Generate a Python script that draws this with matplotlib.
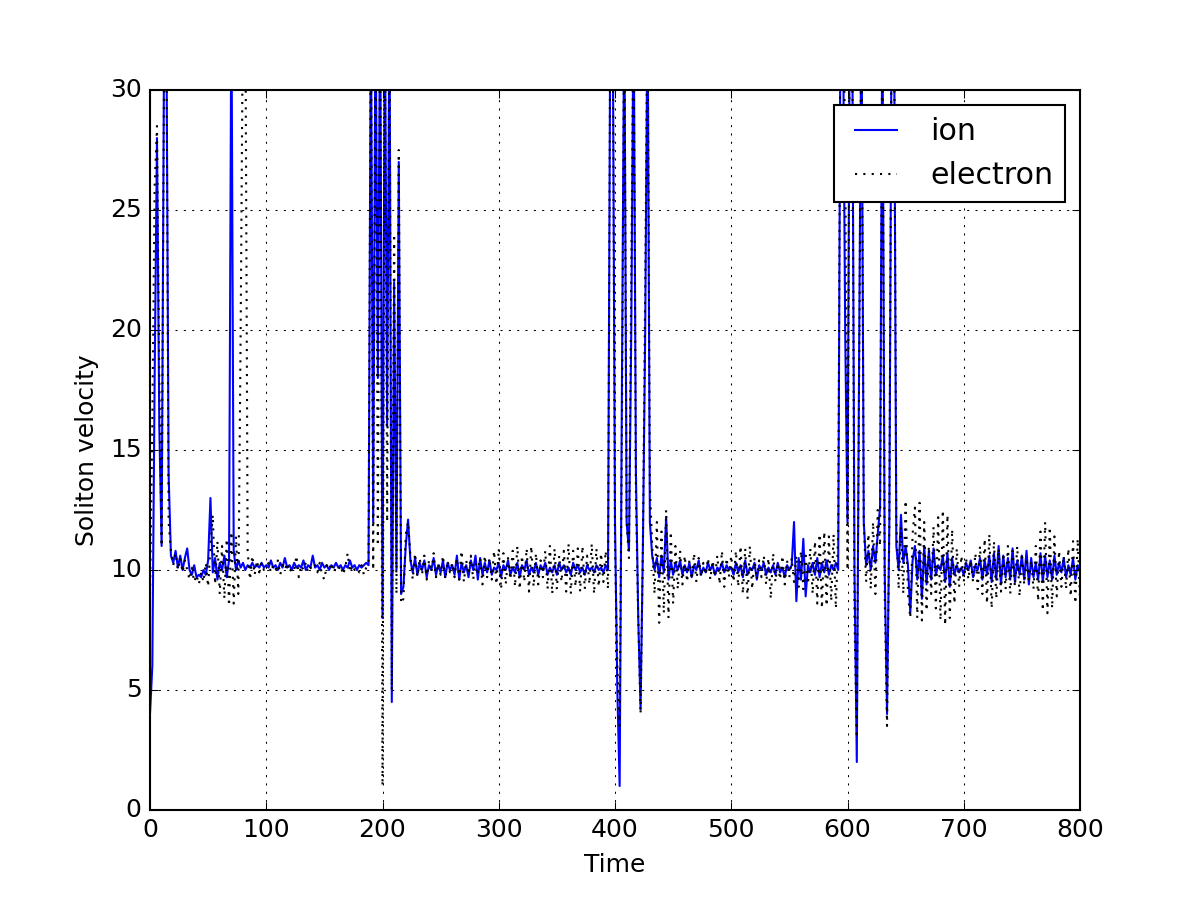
import numpy as np
import matplotlib
matplotlib.use('Agg')
import matplotlib.pyplot as plt

ion_segments = {
    0: [4.0, 6.0, 18, 28, 16, 11, 31, 34, 14, 10.6, 10.3, 10.8, 10.1, 10.6, 10.0, 10.5, 10.9, 10.0, 9.8, 10.2,
        9.7, 9.8, 9.7, 10.0, 9.8, 10.4, 13.0, 9.9, 10.5, 9.6, 10.3, 10.0, 10.6, 9.7, 10.4, 34, 10.8, 10.0, 10.4, 10.1,
        10.3, 10.0, 10.2, 10.1, 10.3, 10.1, 10.2, 10.1, 10.3, 10.1],
    100: [10.2, 10.1, 10.4, 10.1, 10.2, 10.0, 10.3, 10.1, 10.5, 10.1, 10.2, 10.0, 10.3, 10.1, 10.2, 10.1, 10.4, 10.0, 10.2, 10.1,
          10.6, 10.1, 10.2, 10.0, 10.3, 10.1, 10.2, 10.0, 10.2, 10.1, 10.3, 10.1, 10.2, 10.0, 10.2, 10.1, 10.4, 10.1, 10.2, 10.0,
          10.2, 10.1, 10.2, 10.3, 10.2, 34, 12, 34, 18, 34],
    200: [8, 34, 16, 34, 4.5, 22, 10, 27, 9.0, 9.3, 11, 12.1, 10.4, 9.9, 10.5, 9.8, 10.3, 10.0, 10.4, 9.7,
          10.2, 10.0, 10.5, 9.8, 10.2, 9.9, 10.4, 9.7, 10.3, 10.0, 10.2, 9.8, 10.6, 9.6, 10.3, 9.9, 10.2, 9.7, 10.4, 10.0,
          10.6, 9.6, 10.5, 9.8, 10.3, 9.9, 10.4, 9.8, 10.1, 10.0],
    300: [10.3, 9.7, 10.2, 10.0, 10.4, 9.8, 10.1, 9.9, 10.3, 9.7, 10.2, 10.0, 10.4, 9.8, 10.1, 9.9, 10.3, 9.8, 10.2, 10.0,
          10.3, 9.8, 10.1, 9.9, 10.2, 9.8, 10.3, 10.0, 10.2, 9.9, 10.1, 9.8, 10.3, 10.0, 10.2, 9.9, 10.1, 9.8, 10.2, 10.0,
          10.1, 9.9, 10.2, 10.0, 10.1, 9.9, 10.2, 10.0, 34, 34],
    400: [12, 5, 1.0, 18, 34, 12, 10.8, 20, 34, 14, 8, 4.2, 11, 20, 34, 12, 10.6, 10.0, 10.5, 9.7,
          10.6, 9.9, 12.2, 9.6, 10.4, 9.8, 10.3, 10.0, 10.4, 9.8, 10.2, 9.9, 10.3, 9.7, 10.2, 10.0, 10.4, 9.8, 10.1, 9.9,
          10.3, 10.0, 10.2, 9.8, 10.1, 10.0, 10.3, 9.9, 10.2, 10.0],
    500: [10.1, 9.8, 10.3, 9.9, 10.2, 9.7, 10.4, 9.8, 10.1, 10.0, 10.3, 9.6, 10.2, 10.0, 10.3, 9.8, 10.1, 9.9, 10.2, 9.8,
          10.3, 9.9, 10.1, 9.7, 10.2, 10.0, 10.2, 12.0, 8.7, 10.5, 9.6, 11.3, 8.9, 10.2, 9.9, 10.3, 9.8, 10.5, 9.7, 10.3,
          9.9, 10.4, 9.8, 10.2, 10.0, 10.3, 10.0, 34, 34, 20],
    600: [12, 34, 34, 10, 2.0, 19, 34, 12, 10.2, 10.8, 10.0, 11, 10.3, 11.5, 12.6, 34, 10, 4.0, 12, 34,
          34, 11, 10.0, 12.3, 10.3, 11.0, 10.2, 8.2, 10.4, 11.0, 9.6, 10.8, 8.8, 11.0, 9.4, 10.8, 9.6, 10.9, 9.8, 10.2,
          10.0, 10.6, 9.5, 10.7, 9.3, 10.5, 9.8, 10.2, 9.9, 10.1],
    700: [9.8, 10.3, 10.0, 10.4, 9.7, 10.2, 10.0, 10.5, 9.6, 10.4, 9.8, 10.6, 9.5, 10.7, 9.6, 11.0, 9.4, 10.6, 9.7, 10.5,
          9.6, 10.9, 9.5, 10.4, 9.8, 10.6, 9.6, 10.8, 9.4, 10.5, 9.7, 10.3, 9.6, 10.7, 9.5, 10.6, 9.7, 10.4, 9.6, 10.6,
          9.8, 10.3, 9.9, 10.5, 9.7, 10.2, 9.8, 10.5, 9.6, 10.2, 9.9],
}

electron_segments = {
    0: [9.0, 16, 26, 28.5, 18, 11, 30, 34, 12, 10.8, 10.2, 10.7, 10.0, 10.5, 9.9, 10.4, 10.0, 9.6, 10.1, 9.5,
        9.8, 9.4, 9.9, 9.5, 10.3, 9.3, 11.0, 12.3, 9.4, 11.2, 9.0, 11.0, 8.8, 11.3, 8.5, 11.6, 8.6, 11.4, 9.0, 20,
        34, 34, 10.8, 9.6, 10.6, 9.8, 10.4, 9.9, 10.3, 10.0],
    100: [10.1, 10.3, 9.9, 10.2, 10.0, 10.4, 9.8, 10.2, 10.0, 10.3, 9.9, 10.1, 10.0, 10.6, 9.7, 10.2, 10.0, 10.3, 9.9, 10.1,
          10.0, 10.2, 9.9, 10.3, 9.8, 9.6, 10.2, 10.0, 10.3, 9.9, 10.1, 10.0, 10.2, 9.8, 10.1, 10.7, 9.9, 10.2, 10.0, 10.1,
          9.9, 10.2, 9.8, 10.1, 10.3, 34, 10, 34, 11, 34],
    200: [1.0, 34, 12, 34, 5.0, 24, 9, 27.5, 8.6, 8.8, 11.5, 12.0, 10.6, 9.6, 10.7, 9.7, 10.5, 9.8, 10.6, 9.6,
          10.4, 9.9, 10.7, 9.7, 10.3, 9.8, 10.6, 9.6, 10.4, 9.9, 10.3, 9.7, 10.5, 9.6, 10.8, 9.5, 10.4, 9.8, 10.6, 9.6,
          10.3, 9.9, 10.5, 9.4, 10.6, 9.7, 10.5, 9.6, 10.8, 9.4],
    300: [10.9, 9.2, 10.7, 9.4, 10.5, 9.6, 10.8, 9.3, 11.0, 9.2, 10.6, 9.5, 10.9, 9.1, 11.0, 9.3, 10.7, 9.4, 10.4, 9.7,
          10.8, 9.2, 11.0, 9.0, 10.9, 9.2, 10.6, 9.5, 10.8, 9.1, 11.1, 9.0, 10.8, 9.3, 10.9, 9.1, 11.0, 9.2, 10.6, 9.4,
          11.1, 9.0, 10.9, 9.3, 10.7, 9.5, 10.8, 9.2, 34, 34],
    400: [11, 6, 3.5, 16, 34, 12, 10.5, 22, 34, 13, 8, 4.0, 11, 22, 34, 13.5, 11, 9.0, 12.0, 7.8,
          11.6, 8.2, 12.5, 8.0, 11.6, 8.6, 11.0, 9.2, 10.8, 9.4, 10.6, 9.5, 10.4, 9.6, 10.7, 9.5, 10.5, 9.7, 10.3, 9.8,
          10.5, 9.6, 10.4, 9.7, 10.6, 9.4, 10.8, 9.3, 10.5, 9.7],
    500: [10.6, 9.5, 10.8, 9.3, 11.0, 9.0, 10.9, 8.8, 11.0, 9.2, 10.5, 9.6, 10.4, 9.7, 10.6, 9.4, 10.5, 8.8, 10.7, 9.5,
          10.3, 9.6, 10.6, 9.4, 10.4, 9.7, 10.5, 9.5, 10.6, 9.3, 10.8, 9.2, 10.6, 9.4, 10.9, 9.0, 11.2, 8.6, 11.5, 8.4,
          11.6, 8.5, 11.4, 8.7, 11.5, 8.4, 11.6, 34, 34, 28],
    600: [10, 34, 34, 8, 3.0, 18, 34, 12, 9.5, 11.5, 9.2, 12, 9.0, 12.5, 11, 34, 9, 3.5, 12, 34,
          34, 12, 9.2, 11.8, 9.0, 12.9, 9.0, 8.0, 11.5, 12.6, 8.0, 12.8, 7.9, 12.0, 8.3, 11.0, 9.0, 11.8, 8.4, 12.2,
          7.9, 12.5, 7.7, 12.3, 8.0, 11.7, 8.6, 10.9, 9.3, 10.6],
    700: [9.5, 10.5, 9.6, 10.4, 9.5, 10.7, 9.2, 11.0, 9.0, 11.3, 8.6, 11.5, 8.4, 11.2, 8.8, 10.9, 9.1, 10.7, 9.2, 11.0,
          9.0, 10.8, 9.3, 11.0, 8.9, 10.7, 9.4, 10.5, 9.6, 10.4, 9.2, 11.0, 8.7, 11.6, 8.3, 12.0, 8.2, 11.8, 8.4, 11.4,
          8.9, 10.8, 9.3, 10.6, 9.2, 10.9, 8.9, 11.2, 8.6, 11.3, 8.8],
}


def join(segments):
    t, v = [], []
    for start, vals in segments.items():
        t.extend(start + 2 * np.arange(len(vals)))
        v.extend(vals)
    return np.array(t), np.array(v)


t_ion, ion = join(ion_segments)
t_el, electron = join(electron_segments)

plt.style.use('classic')
fig = plt.figure(figsize=(8, 6), dpi=150)
plt.plot(t_ion, ion, 'b-', label='ion')
plt.plot(t_el, electron, 'k:', label='electron')
plt.xlim(0, 800)
plt.ylim(0, 30)
plt.xlabel('Time')
plt.ylabel('Soliton velocity')
plt.grid(True)
plt.legend(loc='upper right')
plt.savefig('out.png', dpi=150)
